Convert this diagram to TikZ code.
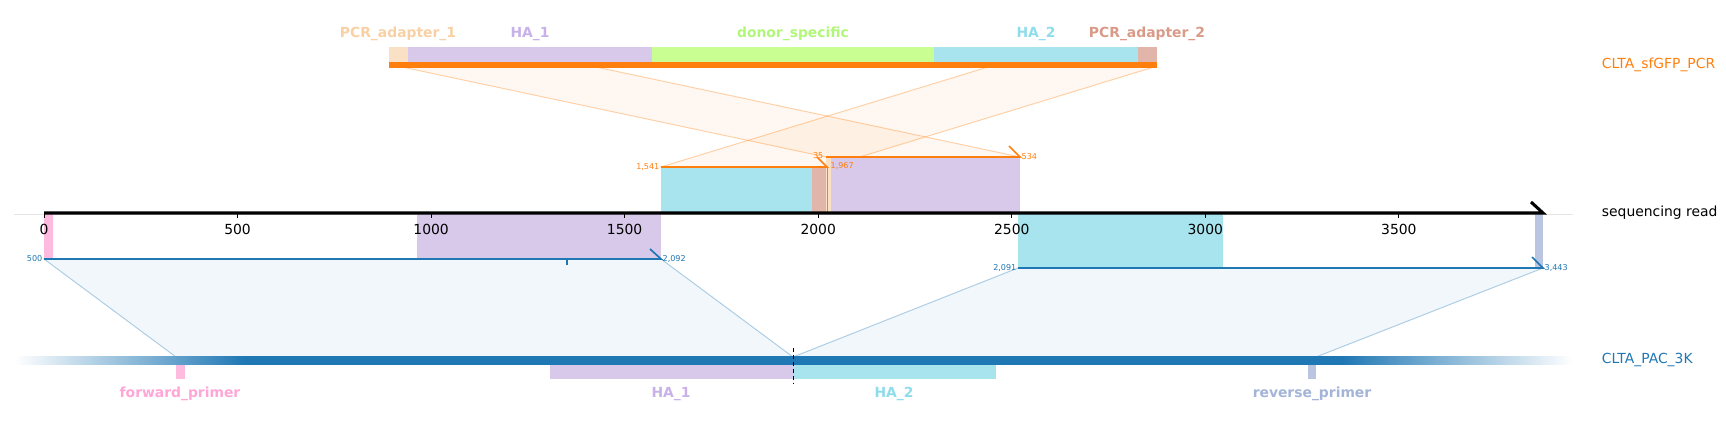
\documentclass[tikz,border=0pt]{standalone}
\usepackage{fontspec}
\setmainfont{DejaVu Sans}
\usepackage{tikz}
\usetikzlibrary{arrows.meta}

\definecolor{pcrorange}{HTML}{FF7F0E}
\definecolor{pacblue}{HTML}{1F77B4}
\definecolor{adaptA}{HTML}{FAE0C4}
\definecolor{adaptAlab}{HTML}{F8D0A4}
\definecolor{haA}{HTML}{D8C8EA}
\definecolor{haAlab}{HTML}{C7B1E8}
\definecolor{donor}{HTML}{C8FE92}
\definecolor{donorlab}{HTML}{B1F77A}
\definecolor{haB}{HTML}{A8E4EE}
\definecolor{haBlab}{HTML}{8FDCEB}
\definecolor{adaptB}{HTML}{E1B5AA}
\definecolor{adaptBlab}{HTML}{D99A88}
\definecolor{fwdprim}{HTML}{FFBADF}
\definecolor{fwdprimlab}{HTML}{FFA6D6}
\definecolor{revprim}{HTML}{B9C5E1}
\definecolor{revprimlab}{HTML}{A3B4D8}
\pgfdeclarehorizontalshading{pacfade}{100bp}{color(0bp)=(white); color(25bp)=(white);
	color(32.4bp)=(pacblue); color(67.6bp)=(pacblue); color(75bp)=(white); color(100bp)=(white)}

\begin{document}
\begin{tikzpicture}[x=0.72pt, y=-0.72pt, font=\fontsize{10}{12}\selectfont,
	featlab/.style={font=\fontsize{10}{12}\selectfont\bfseries},
	poslab/.style={font=\fontsize{5.8}{7}\selectfont, inner sep=1pt},
	alnline/.style={line width=1.2pt},
	projorange/.style={fill=pcrorange, fill opacity=.06, draw=pcrorange, draw opacity=.35, line width=.7pt},
	projblue/.style={fill=pacblue, fill opacity=.06, draw=pacblue, draw opacity=.35, line width=.7pt}]
	\useasboundingbox (0,0) rectangle (1726,426);
	\draw[color=gray!20, line width=.7pt] (14,214) -- (1573,214);
	% ends of the alignments
	\coordinate (pcrA) at (402,67);
	\coordinate (pcrB) at (596,67);
	\coordinate (pcrC) at (988,67);
	\coordinate (pcrD) at (1154,67);
	\coordinate (alnAl) at (661,167);
	\coordinate (alnAr) at (827,167);
	\coordinate (alnBl) at (826,157);
	\coordinate (alnBr) at (1020,157);
	\coordinate (alnCl) at (44,259);
	\coordinate (alnCr) at (661,259);
	\coordinate (alnDl) at (1018,268);
	\coordinate (alnDr) at (1543,268);
	\coordinate (pacA) at (176,357);
	\coordinate (pacB) at (793,357);
	\coordinate (pacC) at (1316,357);
	\path[projorange] (pcrA) -- (pcrB) -- (alnBr) -- (alnBl) -- cycle;
	\path[projorange] (pcrC) -- (pcrD) -- (alnAr) -- (alnAl) -- cycle;
	\path[projblue] (alnCl) -- (alnCr) -- (pacB) -- (pacA) -- cycle;
	\path[projblue] (alnDl) -- (alnDr) -- (pacC) -- (pacB) -- cycle;
	% top reference
	\fill[adaptA] (389,47) rectangle (408,62);
	\fill[haA] (408,47) rectangle (652,62);
	\fill[donor] (652,47) rectangle (934,62);
	\fill[haB] (934,47) rectangle (1138,62);
	\fill[adaptB] (1138,47) rectangle (1157,62);
	\fill[pcrorange] (389,62) rectangle (1157,68);
	\node[featlab, text=adaptAlab] (adaptAtop) at (398,34) {PCR\_adapter\_1};
	\node[featlab, text=haAlab] (haAtop) at (530,34) {HA\_1};
	\node[featlab, text=donorlab] (donortop) at (793,34) {donor\_specific};
	\node[featlab, text=haBlab] (haBtop) at (1036,34) {HA\_2};
	\node[featlab, text=adaptBlab] (adaptBtop) at (1147,34) {PCR\_adapter\_2};
	\node[text=pcrorange, anchor=west] (pcrname) at (1597,65) {CLTA\_sfGFP\_PCR};
	% features on the read
	\fill[haB] (661,167) rectangle (812,213);
	\fill[adaptB] (812,167) rectangle (827,213);
	\fill[adaptA] (826,157) rectangle (831,213);
	\fill[haA] (831,157) rectangle (1020,213);
	\fill[fwdprim] (44,214) rectangle (53,259);
	\fill[haA] (417,214) rectangle (661,259);
	\fill[haB] (1018,214) rectangle (1223,268);
	\fill[revprim] (1535,214) rectangle (1543,268);
	% alignments
	\draw[alnline, pcrorange] (alnAl) -- (alnAr) -- ++(-10,-10);
	\draw[alnline, pcrorange] (alnBl) -- (alnBr) -- ++(-11,-11);
	\draw[pcrorange, line width=.6pt] (alnAr) -- (827,213);
	\draw[alnline, pacblue] (alnCl) -- (alnCr) -- ++(-11,-10);
	\draw[alnline, pacblue] (567,259) -- (567,265);
	\draw[alnline, pacblue] (alnDl) -- (alnDr) -- ++(-11,-11);
	\node[poslab, text=pcrorange, anchor=east] (alnAfrom) at (alnAl) {1,541};
	\node[poslab, text=pcrorange, anchor=west] (alnAto) at (829,166) {1,967};
	\node[poslab, text=pcrorange, anchor=east] (alnBfrom) at (825,156) {35};
	\node[poslab, text=pcrorange, anchor=west] (alnBto) at (alnBr) {534};
	\node[poslab, text=pacblue, anchor=east] (alnCfrom) at (alnCl) {500};
	\node[poslab, text=pacblue, anchor=west] (alnCto) at (alnCr) {2,092};
	\node[poslab, text=pacblue, anchor=east] (alnDfrom) at (alnDl) {2,091};
	\node[poslab, text=pacblue, anchor=west] (alnDto) at (alnDr) {3,443};
	% sequencing read
	\draw[line width=2.2pt] (44,213) -- (1543,213) -- ++(-12,-11);
	\foreach \t in {0,500,...,3500} {
		\draw[line width=.7pt] (44+0.3871*\t,213) -- ++(0,5);
		\node (tick\t) at (44+0.3871*\t,229) {\t};
	}
	\node[anchor=west] (readname) at (1597,213) {sequencing read};
	% bottom reference
	\shade[shading=pacfade] (15,357) rectangle (1572,365);
	\fill[fwdprim] (176,365) rectangle (185,379);
	\fill[haA] (550,365) rectangle (793,379);
	\fill[haB] (793,365) rectangle (996,379);
	\fill[revprim] (1308,365) rectangle (1316,379);
	\draw[dashed, line width=.7pt, dash pattern=on 3pt off 2pt] (793,348) -- (793,383);
	\node[featlab, text=fwdprimlab] (fwdbot) at (180,394) {forward\_primer};
	\node[featlab, text=haAlab] (haAbot) at (671,394) {HA\_1};
	\node[featlab, text=haBlab] (haBbot) at (894,394) {HA\_2};
	\node[featlab, text=revprimlab] (revbot) at (1312,394) {reverse\_primer};
	\node[text=pacblue, anchor=west] (pacname) at (1597,360) {CLTA\_PAC\_3K};
\end{tikzpicture}
\end{document}
